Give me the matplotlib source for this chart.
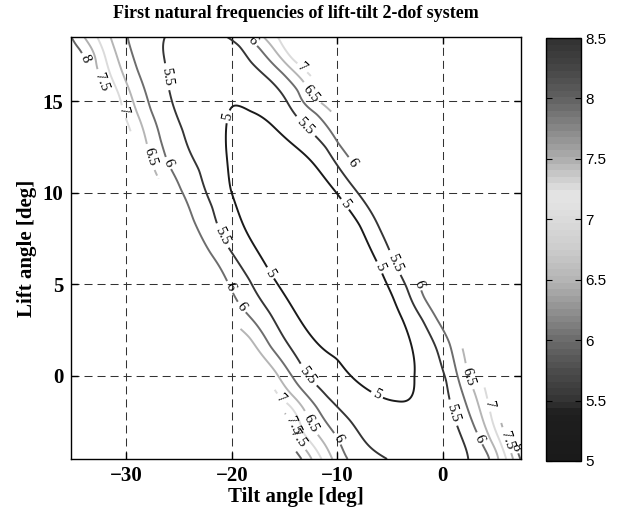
import numpy as np
import matplotlib
matplotlib.use("Agg")
import matplotlib.pyplot as plt
from matplotlib.colors import ListedColormap, Normalize
from matplotlib.cm import ScalarMappable

# ---------------- data ----------------
levels = [5.0, 5.5, 6.0, 6.5, 7.0, 7.5, 8.0]
x_ticks = [-30, -20, -10, 0]
y_ticks = [0, 5, 10, 15]
cbar_ticks = [5, 5.5, 6, 6.5, 7, 7.5, 8, 8.5]

# contour samples (tilt deg, lift deg) for each level
c50 = [(-20.16, 14.40), (-20.54, 12.33), (-20.16, 10.15), (-19.21, 8.67), (-16.37, 5.62),
       (-13.53, 3.06), (-9.92, 1.04), (-6.23, -1.04), (-4.33, -1.31), (-2.81, -0.05),
       (-2.81, 1.25), (-3.76, 3.06), (-4.71, 4.31), (-5.94, 5.95), (-7.84, 8.24),
       (-10.02, 9.98), (-12.86, 11.95), (-16.37, 13.80), (-18.27, 14.35)]
c55 = [(-26.32, 18.49), (-26.23, 17.08), (-25.85, 15.44), (-24.62, 13.42), (-23.01, 11.24),
       (-21.78, 9.22), (-20.92, 7.58), (-19.97, 6.71), (-18.27, 5.24), (-16.37, 3.44),
       (-14.48, 1.58), (-12.86, -0.05), (-10.97, -1.15), (-8.79, -2.40), (-4.99, -4.58),
       (-19.21, 18.06), (-18.27, 17.13), (-16.37, 16.15), (-14.48, 14.68), (-13.05, 13.58),
       (-10.97, 12.49), (-8.79, 10.53), (-5.94, 7.97), (-4.52, 6.06), (-3.38, 4.86),
       (-1.87, 3.06), (-0.54, 1.42), (0.41, -0.22), (0.98, -2.02), (2.30, -4.47)]
c60 = [(-29.92, 18.49), (-28.97, 16.69), (-27.74, 14.51), (-26.80, 12.88), (-26.13, 11.62),
       (-24.90, 10.15), (-23.67, 8.51), (-22.06, 6.71), (-20.16, 4.86), (-19.21, 3.82),
       (-17.32, 2.51), (-16.37, 1.58), (-14.19, -0.05), (-11.91, -1.69), (-9.92, -3.38),
       (-9.07, -4.58),
       (-17.30, 17.89), (-15.14, 16.53), (-13.53, 15.60), (-11.91, 14.35), (-10.02, 12.71),
       (-8.31, 11.46), (-2.34, 5.13), (-1.87, 4.31), (-0.54, 3.06), (0.69, 1.80),
       (1.55, -0.22), (2.87, -2.56), (3.54, -3.38), (4.67, -4.47)]
c65 = [(-31.53, 18.49), (-30.11, 16.15), (-28.69, 13.97), (-27.74, 11.95), (-26.04, 9.87),
       (-22.51, 5.67), (-21.75, 4.42), (-20.16, 3.06), (-18.27, 2.13), (-15.42, -0.22),
       (-12.58, -2.56), (-10.49, -4.58),
       (-17.13, 18.49), (-15.14, 17.24), (-12.77, 15.33), (-10.50, 14.40),
       (1.83, 1.58), (2.30, -0.05), (3.25, -1.31), (4.48, -3.49), (5.15, -4.47)]
c70 = [(-32.77, 18.49), (-31.53, 16.42), (-30.39, 14.51), (-29.43, 13.15),
       (-16.37, -0.22), (-15.42, -1.31), (-13.53, -3.11), (-11.44, -4.58),
       (-15.42, 18.49), (-13.53, 16.97), (-12.39, 16.31),
       (4.01, -0.60), (4.48, -1.85), (5.43, -3.49), (6.09, -4.47)]
c75 = [(-34.19, 18.49), (-32.96, 16.97), (-31.53, 15.06),
       (-15.04, -1.85), (-14.00, -3.22), (-12.39, -4.58),
       (-14.83, 18.49), (-13.72, 17.51),
       (5.43, -2.40), (6.09, -3.49), (6.66, -4.53)]
c80 = [(-35.04, 18.49), (-34.3, 17.85), (-33.62, 17.24),
       (-14.27, -3.11), (-13.24, -4.53),
       (6.66, -3.49), (7.14, -4.31)]
# estimated values: valley floor and just beyond the computed region
extra_pts = [(-11.6, 6.5), (-23.0, 18.5), (-1.4, -4.5), (-35.6, 17.6), (-34.6, 16.6),
             (-15.4, -3.6)]
extra_val = [4.5, 5.35, 5.3, 8.3, 8.3, 8.35]

# edges of the computed region (tilt where data stop, by lift)
left_edge_lift = [-4.6, -3.11, -1.75, -0.22, 5.9, 9.87, 13.15, 15.06, 17.24, 18.6]
left_edge_tilt = [-13.8, -14.27, -15.23, -16.37, -22.6, -26.04, -29.43, -31.53, -33.95, -36.0]
right_edge_lift = [-4.6, -3.49, -2.40, -0.60, 1.58, 5.13, 8.1, 11.46, 14.40, 16.31, 17.51, 18.6]
right_edge_tilt = [7.9, 6.66, 5.43, 4.01, 1.83, -2.34, -5.4, -8.31, -10.50, -12.39, -13.72, -14.9]

# contour label spots (tilt, lift)
label_spots = [(-33.6, 17.1), (-32.5, 16.0), (-30.4, 14.4), (-27.7, 11.95), (-26.1, 11.6),
               (-26.5, 16.3), (-20.0, 14.1), (-18.2, 18.2), (-13.5, 16.7), (-12.75, 15.3),
               (-13.05, 13.6), (-8.1, 11.35), (-9.9, 9.1), (-21.1, 7.6), (-21.8, 4.4),
               (-19.2, 3.7), (-16.4, 5.6), (-5.9, 5.95), (-4.5, 6.2), (-2.3, 5.1),
               (-12.9, 0.0), (-6.2, -1.0), (-15.4, -1.3), (-12.6, -2.6), (-14.5, -2.8),
               (-14.2, -3.4), (-9.9, -3.4), (2.3, -0.05), (1.0, -2.0), (4.3, -1.6),
               (3.5, -3.4), (6.1, -3.5), (6.85, -3.9)]

# colormap greys (value -> grey)
cb_vals = [5.0, 5.4, 5.5, 5.75, 6.0, 6.25, 6.5, 6.75, 7.0, 7.2, 7.35, 7.5, 7.75, 8.0, 8.25, 8.5]
cb_gray = [0.10, 0.12, 0.20, 0.30, 0.42, 0.57, 0.71, 0.80, 0.86, 0.90, 0.80, 0.68, 0.53, 0.38, 0.27, 0.19]

# ---------------- build field from samples ----------------
groups = [(c50, 5.0), (c55, 5.5), (c60, 6.0), (c65, 6.5), (c70, 7.0), (c75, 7.5), (c80, 8.0)]
px, py, pv = [], [], []
for pts, lv in groups:
    for (a, b) in pts:
        px.append(a); py.append(b); pv.append(lv)
for (a, b), v in zip(extra_pts, extra_val):
    px.append(a); py.append(b); pv.append(v)
px = np.array(px) / 10.0
py = np.array(py) / 5.75
pv = np.array(pv)


def kern(r):
    with np.errstate(divide="ignore", invalid="ignore"):
        k = r ** 2 * np.log(r)
    return np.where(r > 0, k, 0.0)


n = len(px)
K = kern(np.hypot(px[:, None] - px[None, :], py[:, None] - py[None, :]))
P = np.column_stack([np.ones(n), px, py])
A = np.zeros((n + 3, n + 3))
A[:n, :n] = K + 0.018 * np.eye(n)
A[:n, n:] = P
A[n:, :n] = P.T
sol = np.linalg.solve(A, np.concatenate([pv, np.zeros(3)]))
w, coef = sol[:n], sol[n:]

xlim = (-35.3, 7.4)
ylim = (-4.53, 18.5)
gx = np.linspace(xlim[0], xlim[1], 400)
gy = np.linspace(ylim[0], ylim[1], 320)
GX, GY = np.meshgrid(gx, gy)
sx, sy = GX.ravel() / 10.0, GY.ravel() / 5.75
Z = kern(np.hypot(sx[:, None] - px[None, :], sy[:, None] - py[None, :])) @ w
Z = Z + coef[0] + coef[1] * sx + coef[2] * sy
Z = Z.reshape(GX.shape)
xl = np.interp(GY, left_edge_lift, left_edge_tilt)
xr = np.interp(GY, right_edge_lift, right_edge_tilt)
Z = np.ma.masked_where((GX < xl) | (GX > xr), Z)

# ---------------- colormap ----------------
ncol = 64
mids = 5.0 + (np.arange(ncol) + 0.5) * 3.5 / ncol
g = np.interp(mids, cb_vals, cb_gray)
cmap = ListedColormap(np.column_stack([g, g, g]))
norm = Normalize(vmin=5.0, vmax=8.5)

# ---------------- figure ----------------
W, H = 618, 513
fig = plt.figure(figsize=(W / 100, H / 100), dpi=100)
ax = fig.add_axes([70.5 / W, 1 - 459 / H, 450.2 / W, 422 / H])
cax = fig.add_axes([546 / W, 1 - 461 / H, 35 / W, 423 / H])

serif = "Liberation Serif"
cs = ax.contour(GX, GY, Z, levels=levels, cmap=cmap, norm=norm, linewidths=1.4)
ax.set_xlim(*xlim)
ax.set_ylim(*ylim)
lbls = ax.clabel(cs, inline=True, fmt="%g", fontsize=10.5, colors="k", inline_spacing=2,
                 manual=label_spots)
for t in lbls:
    t.set_fontfamily(serif)

ax.set_xticks(x_ticks)
ax.set_yticks(y_ticks)
ax.grid(True, color="0.2", linestyle=(0, (7.7, 4.8)), linewidth=0.75)
ax.tick_params(direction="in", top=True, right=True, length=5, width=1, pad=5)
for lab in ax.get_xticklabels() + ax.get_yticklabels():
    lab.set_fontfamily(serif)
    lab.set_fontweight("bold")
    lab.set_fontsize(15)
for s in ax.spines.values():
    s.set_linewidth(1.0)
    s.set_color("k")

fig.text(295.6 / W, 1 - 14 / H, "First natural frequencies of lift-tilt 2-dof system",
         ha="center", va="center", fontsize=13, fontweight="bold", family=serif)
fig.text(295.6 / W, 1 - 497 / H, "Tilt angle [deg]", ha="center", va="center",
         fontsize=15, fontweight="bold", family=serif)
fig.text(27 / W, 1 - 248 / H, "Lift angle [deg]", ha="center", va="center",
         rotation=90, fontsize=15, fontweight="bold", family=serif)

cb = fig.colorbar(ScalarMappable(norm=norm, cmap=cmap), cax=cax, ticks=cbar_ticks)
cb.outline.set_linewidth(1.0)
cb.outline.set_edgecolor("k")
cax.tick_params(direction="in", left=True, right=True, length=4, width=0.8, pad=3)
cax.set_yticklabels(["%g" % t for t in cbar_ticks])
for lab in cax.get_yticklabels():
    lab.set_fontfamily("Liberation Sans")
    lab.set_fontsize(11)

fig.savefig("out.png", dpi=100)
